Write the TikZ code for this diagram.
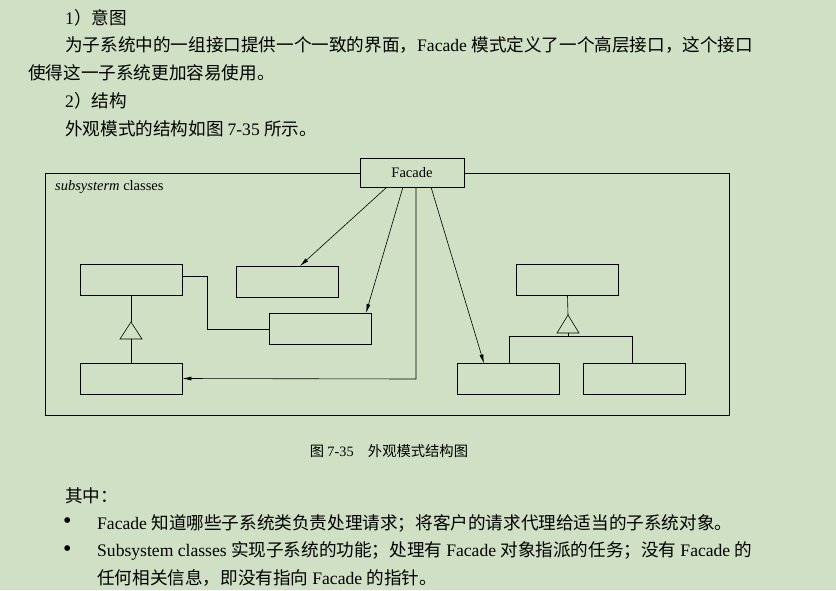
\documentclass[tikz,border=0pt]{standalone}
\usepackage{fontspec}
\setmainfont{Liberation Serif}
\newfontfamily\cjk{Noto Sans CJK SC}
\usetikzlibrary{arrows.meta}
\definecolor{pagegreen}{RGB}{207,224,196}

\tikzset{
  cls/.style={draw, line width=0.8pt, minimum width=102pt, minimum height=31pt, inner sep=0pt},
  para/.style={anchor=west, inner sep=0pt, font=\fontsize{17.6}{20}\selectfont},
  lnk/.style={line width=0.6pt},
  arr/.style={lnk, -{Latex[length=9pt,width=4pt]}},
}

\begin{document}
\begin{tikzpicture}[x=1pt, y=-1pt]
\fill[pagegreen] (0,0) rectangle (836,590);
\useasboundingbox (0,0) rectangle (836,590);

% page text
\node[para] (t1) at (65,18) {1\cjk）意图};
\node[para] (t2) at (65,45) {\cjk 为子系统中的一组接口提供一个一致的界面，\rmfamily Facade \cjk 模式定义了一个高层接口，这个接口};
\node[para] (t3) at (28,73) {\cjk 使得这一子系统更加容易使用。};
\node[para] (t4) at (65,101) {2\cjk）结构};
\node[para] (t5) at (65,129) {\cjk 外观模式的结构如图 \rmfamily 7-35 \cjk 所示。};

% frame and facade
\draw[line width=0.8pt] (45,173) rectangle (729,415);
\node[cls, fill=pagegreen, minimum width=104pt, minimum height=29pt, font=\fontsize{14.5}{16}\selectfont] (facade) at (412,172.5) {Facade};
\node[anchor=west, inner sep=0pt, font=\fontsize{14.5}{16}\selectfont] (sub) at (55,187) {\textit{subsysterm} classes};

% subsystem classes
\node[cls] (a) at (131,279.5) {};
\node[cls] (b) at (287.5,281.5) {};
\node[cls] (c) at (320,329) {};
\node[cls] (d) at (131,378.5) {};
\node[cls] (e) at (567.5,280) {};
\node[cls] (f) at (508,379) {};
\node[cls] (g) at (634.5,379) {};

% inheritance, left
\draw[lnk] (a.south) -- (131,322);
\draw[lnk] (131,322) -- (120,339) -- (142,339) -- cycle;
\draw[lnk] (131,339) -- (d.north);
\draw[lnk] (a.east |- 0,276) -- (207,276) -- (207,329) -- (c.west);

% inheritance, right
\draw[lnk] (e.south) -- (568,315);
\draw[lnk] (568,315) -- (557,333) -- (579,333) -- cycle;
\draw[lnk] (568,333) -- (568,336);
\draw[lnk] (f.north -| 509,0) -- (509,336) -- (632,336) -- (g.north -| 632,0);

% facade links
\draw[arr] (387,187) -- (300,266);
\draw[arr] (403,187) -- (366,313);
\draw[arr] (416,187) -- (416,379) -- (d.east);
\draw[arr] (431,187) -- (484,363.5);

% caption and notes
\node[para, anchor=center, font=\fontsize{14.3}{16}\selectfont] (cap) at (389,451) {\cjk 图 \rmfamily 7-35\quad\cjk 外观模式结构图};
\node[para] (n0) at (65,496) {\cjk 其中：};
\node[para, font=\fontsize{24}{24}\selectfont] (b1) at (63,523) {\textbullet};
\node[para, font=\fontsize{24}{24}\selectfont] (b2) at (63,551) {\textbullet};
\node[para] (n1) at (97,523) {Facade \cjk 知道哪些子系统类负责处理请求；将客户的请求代理给适当的子系统对象。};
\node[para] (n2) at (97,551) {Subsystem classes \cjk 实现子系统的功能；处理有 \rmfamily Facade \cjk 对象指派的任务；没有 \rmfamily Facade \cjk 的};
\node[para] (n3) at (97,578) {\cjk 任何相关信息，即没有指向 \rmfamily Facade \cjk 的指针。};
\end{tikzpicture}
\end{document}
